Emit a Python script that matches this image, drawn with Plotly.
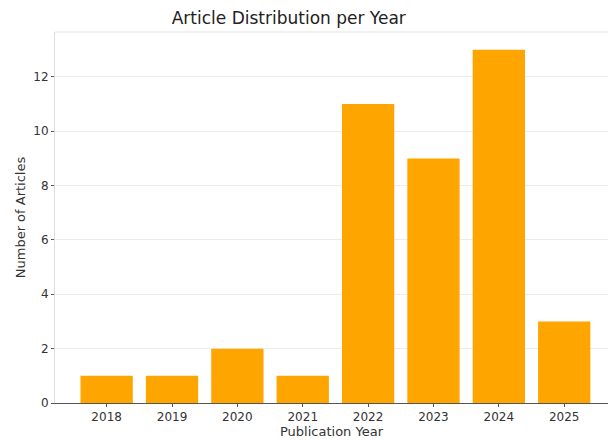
import plotly.graph_objects as go

years = ["2018", "2019", "2020", "2021", "2022", "2023", "2024", "2025"]
counts = [1, 1, 2, 1, 11, 9, 13, 3]
y_ticks = [0, 2, 4, 6, 8, 10, 12]

fig = go.Figure(go.Bar(
    x=list(range(len(years))), y=counts,
    marker=dict(color="#FFA500", line=dict(width=0)),
    width=0.8,
))

fig.update_layout(
    width=608, height=441,
    margin=dict(l=55, r=0, t=32, b=38),
    paper_bgcolor="white", plot_bgcolor="white",
    font=dict(family="DejaVu Sans", color="#333333", size=12),
    title=dict(text="Article Distribution per Year", x=0.475, xanchor="center",
               y=0.96, yanchor="middle", yref="container",
               font=dict(size=17, color="#222222")),
    showlegend=False,
    bargap=0.2,
)
fig.update_xaxes(
    range=[-0.79, 7.67], tickvals=list(range(len(years))), ticktext=years,
    showgrid=False, showline=True, linecolor="#555555", linewidth=1,
    ticks="outside", ticklen=3, tickcolor="#555555", mirror=False,
    zeroline=False, automargin=False,
    title=dict(text="Publication Year", font=dict(size=13), standoff=3),
)
fig.update_yaxes(
    range=[0, 13.65], tickvals=y_ticks,
    showgrid=True, gridcolor="#ececec", gridwidth=1,
    showline=True, linecolor="#dddddd", linewidth=1, mirror=True,
    ticks="outside", ticklen=3, tickcolor="#555555",
    zeroline=False, automargin=False,
    title=dict(text="Number of Articles", font=dict(size=13), standoff=4),
)
fig.add_shape(type="line", xref="paper", yref="paper", x0=0, x1=1, y0=1, y1=1,
              line=dict(color="#e3e3e3", width=1))
fig.write_html("out.html", config={"displayModeBar": False},
               post_script="document.body.style.margin='0px';")
